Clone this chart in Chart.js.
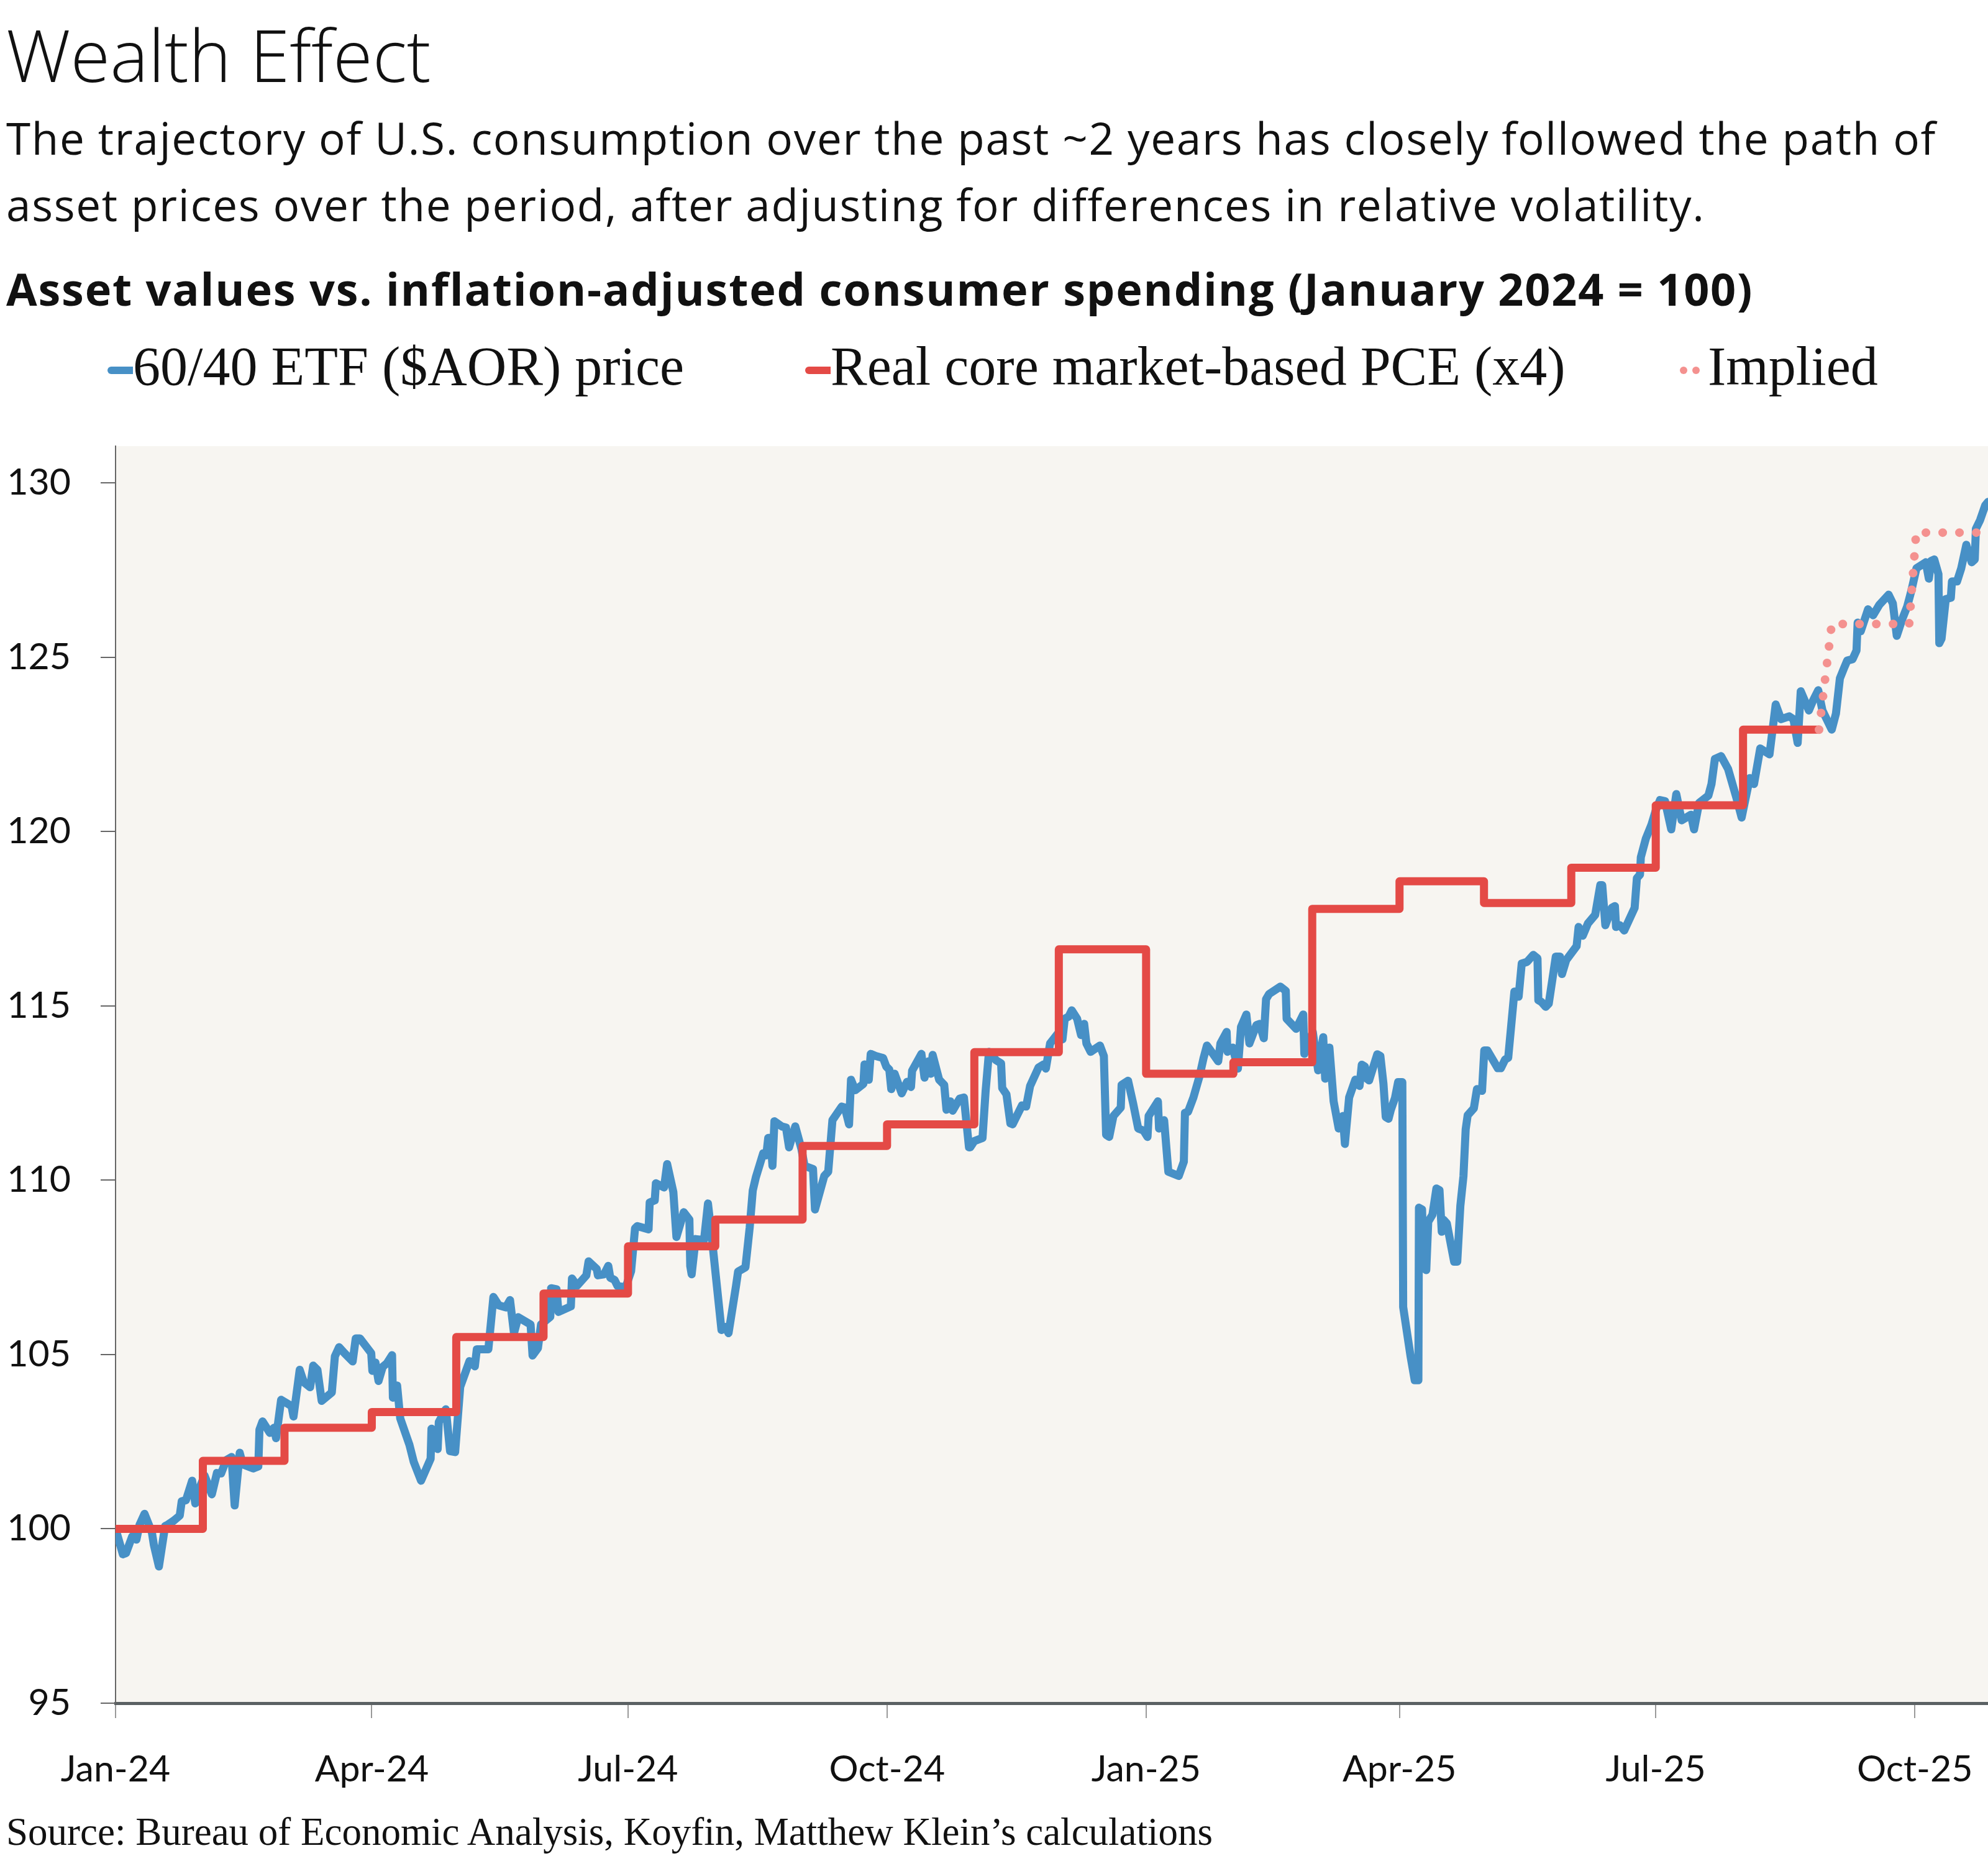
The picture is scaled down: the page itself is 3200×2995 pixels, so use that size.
<!DOCTYPE html>
<html>
<head>
<meta charset="utf-8">
<title>Wealth Effect</title>
<script src="https://cdn.jsdelivr.net/npm/chart.js@4.4.1/dist/chart.umd.min.js"></script>
<style>
  html, body { margin: 0; padding: 0; background: #fff; }
  body { width: 3200px; height: 2995px; position: relative; overflow: hidden; color: #111; }
  #chartBox { position: absolute; left: 0; top: 0; width: 3200px; height: 2995px; }
  .txt { position: absolute; left: 10px; white-space: nowrap; }
  #title { top: 29px; font: 300 116px/1 "Open Sans", sans-serif; }
  #subtitle { top: 168px; font: 400 71px/107px "Open Sans", sans-serif; letter-spacing: 1.7px; }
  #heading { top: 428px; font: 700 72px/1 "Open Sans", sans-serif; letter-spacing: 1.8px; }
  .legend-text { position: absolute; top: 546px; white-space: nowrap; font: 400 88px/1 "Liberation Serif", serif; }
  .swatch { position: absolute; top: 590px; width: 41px; height: 12px; border-radius: 6px 0 0 6px; }
  .dot { position: absolute; top: 590px; width: 12px; height: 12px; border-radius: 50%; background: #f4918f; }
  #source { top: 2917px; font: 400 63px/1 "Liberation Serif", serif; }
</style>
</head>
<body>
<div id="chartBox"><canvas id="wealthChart"></canvas></div>

<div class="txt" id="title">Wealth Effect</div>
<div class="txt" id="subtitle">The trajectory of U.S. consumption over the past ~2 years has closely followed the path of<br>asset prices over the period, after adjusting for differences in relative volatility.</div>
<div class="txt" id="heading">Asset values vs. inflation-adjusted consumer spending (January 2024 = 100)</div>

<div class="swatch" style="left:173px; background:#4790c6;"></div>
<div class="legend-text" style="left:214px;">60/40 ETF ($AOR) price</div>
<div class="swatch" style="left:1296px; background:#e44a46;"></div>
<div class="legend-text" style="left:1337px;">Real core market-based PCE (x4)</div>
<div class="dot" style="left:2704px;"></div>
<div class="dot" style="left:2724px;"></div>
<div class="legend-text" style="left:2749px;">Implied</div>

<div class="txt" id="source">Source: Bureau of Economic Analysis, Koyfin, Matthew Klein’s calculations</div>

<script>
// x positions are calendar days since 1 Jan 2024
const xTickDays = [0, 91, 182, 274, 366, 456, 547, 639];
const xTickLabels = ['Jan-24', 'Apr-24', 'Jul-24', 'Oct-24', 'Jan-25', 'Apr-25', 'Jul-25', 'Oct-25'];
const yTicks = [95, 100, 105, 110, 115, 120, 125, 130];

// 60/40 ETF ($AOR) price, Jan 2024 = 100
const aorDays = [
    0, 2.6, 3.7, 5.9, 7.4, 8.5, 10.3, 12.9, 13.6, 15.4, 17.6, 18.4, 20.6, 22.8, 23.5, 25.0, 27.2, 28.3, 29.0, 31.6,
    34.2, 36.0, 37.5, 39.3, 41.2, 42.3, 44.1, 45.2, 48.9, 50.7, 51.1, 52.2, 54.8, 56.3, 57.0, 58.8, 62.5, 63.2, 65.4, 66.9,
    69.1, 70.2, 71.7, 73.2, 76.8, 77.9, 79.4, 81.3, 84.2, 85.3, 86.8, 90.8, 91.2, 92.3, 93.4, 94.9, 96.3, 98.2, 98.5, 100.0,
    101.1, 104.4, 105.9, 108.5, 111.9, 112.2, 114.4, 114.8, 117.3, 118.8, 120.6, 122.4, 125.7, 127.6, 128.3, 132.4, 134.2, 136.1, 138.6, 140.1,
    141.5, 143.0, 147.4, 148.1, 150.0, 151.1, 154.4, 154.7, 156.6, 157.3, 161.7, 162.1, 163.9, 167.2, 168.0, 170.9, 171.3, 173.5, 175.0, 175.7,
    177.2, 178.3, 181.2, 183.1, 184.5, 185.3, 189.3, 189.7, 191.5, 191.9, 194.8, 195.9, 198.1, 199.2, 201.8, 203.8, 204.1, 204.6, 206.0, 209.0,
    210.4, 211.9, 215.2, 216.7, 217.7, 220.4, 221.1, 223.7, 225.2, 226.3, 227.4, 230.0, 231.1, 231.8, 232.6, 233.3, 234.0, 236.6, 238.1, 239.2,
    241.4, 243.6, 244.7, 247.7, 248.4, 251.7, 253.1, 254.6, 257.9, 259.0, 260.5, 261.2, 262.7, 265.6, 266.0, 267.5, 268.2, 270.0, 272.6, 273.7,
    274.8, 275.5, 276.7, 279.2, 281.1, 282.5, 282.9, 286.2, 287.3, 288.8, 289.5, 290.2, 292.5, 294.3, 295.1, 296.5, 297.3, 299.8, 301.3, 303.1,
    303.5, 305.0, 307.9, 309.0, 310.2, 312.7, 314.5, 314.9, 316.4, 317.8, 318.6, 321.9, 323.4, 324.8, 327.8, 329.6, 330.4, 331.9, 334.5, 335.2,
    336.3, 337.1, 338.5, 339.6, 341.5, 342.9, 344.0, 344.8, 346.3, 349.6, 351.0, 351.8, 352.9, 354.4, 357.0, 357.3, 359.6, 361.4, 363.2, 365.1,
    366.5, 366.9, 370.2, 370.6, 372.4, 373.9, 377.6, 379.4, 379.8, 380.9, 382.8, 385.0, 386.4, 387.6, 388.7, 391.6, 392.4, 394.6, 394.9, 396.8,
    398.6, 399.7, 401.6, 402.7, 405.2, 406.3, 407.8, 408.6, 409.7, 413.7, 415.6, 415.9, 419.3, 421.8, 422.2, 425.2, 427.1, 428.9, 429.6, 431.1,
    432.6, 434.4, 435.9, 436.6, 438.1, 440.3, 441.8, 442.6, 443.7, 444.4, 445.2, 448.1, 449.2, 450.3, 451.1, 452.1, 452.9, 454.4, 455.5, 457.0,
    457.3, 459.9, 461.4, 462.7, 462.9, 464.0, 464.7, 465.5, 466.2, 467.7, 469.1, 470.2, 471.0, 471.7, 472.8, 475.4, 476.5, 477.6, 478.7, 479.5,
    480.2, 482.4, 483.5, 485.3, 486.1, 487.2, 490.9, 492.0, 493.5, 494.6, 496.8, 498.3, 499.4, 501.3, 503.5, 505.0, 505.3, 506.4, 507.9, 509.0,
    511.5, 513.0, 513.7, 515.2, 518.9, 519.6, 521.1, 522.9, 525.5, 527.3, 528.0, 529.1, 531.4, 532.5, 532.9, 534.3, 535.8, 539.5, 540.3, 541.4,
    541.7, 543.5, 545.5, 547.0, 548.5, 550.3, 552.5, 554.3, 556.2, 559.5, 560.6, 562.4, 565.7, 566.8, 568.0, 570.2, 572.7, 575.7, 577.5, 580.4,
    581.9, 584.1, 587.4, 589.6, 591.5, 594.4, 595.9, 597.4, 598.5, 601.4, 602.9, 604.7, 606.2, 609.5, 611.0, 612.4, 613.9, 615.0, 616.9, 618.3,
    618.7, 619.8, 622.4, 624.2, 626.4, 629.7, 631.2, 632.6, 634.5, 636.3, 637.8, 639.6, 642.9, 644.0, 644.8, 645.9, 647.4, 647.7, 648.5, 650.0,
    651.8, 652.2, 654.0, 655.5, 657.3, 659.2, 660.3, 660.7, 662.2, 664.0, 665.0
];
const aorValues = [
    100.00, 99.27, 99.30, 99.78, 99.69, 100.11, 100.43, 99.90, 99.54, 98.92, 100.08, 100.11, 100.23, 100.38, 100.79, 100.82, 101.38, 100.73, 101.00, 101.53,
    100.99, 101.60, 101.59, 101.97, 102.06, 100.67, 102.18, 101.85, 101.73, 101.79, 102.84, 103.08, 102.75, 102.90, 102.60, 103.70, 103.52, 103.22, 104.56, 104.20,
    104.06, 104.68, 104.56, 103.67, 103.91, 104.95, 105.21, 105.04, 104.80, 105.46, 105.46, 105.04, 104.53, 104.77, 104.24, 104.65, 104.74, 104.98, 103.76, 104.11,
    103.17, 102.40, 101.92, 101.38, 102.01, 102.87, 102.29, 103.06, 103.43, 102.23, 102.20, 104.07, 104.81, 104.66, 105.15, 105.15, 106.65, 106.41, 106.35, 106.56,
    105.61, 106.07, 105.86, 104.97, 105.18, 105.86, 106.08, 106.90, 106.87, 106.22, 106.38, 107.18, 106.97, 107.27, 107.67, 107.45, 107.27, 107.30, 107.54, 107.20,
    107.14, 106.96, 106.93, 107.39, 108.62, 108.68, 108.59, 109.36, 109.42, 109.91, 109.79, 110.46, 109.66, 108.37, 109.08, 108.87, 107.54, 107.30, 108.31, 108.28,
    109.33, 108.25, 105.70, 105.79, 105.61, 106.99, 107.38, 107.50, 108.63, 109.70, 110.08, 110.77, 110.71, 111.21, 111.21, 110.41, 111.69, 111.54, 111.51, 110.94,
    111.54, 110.89, 110.41, 110.32, 109.16, 110.12, 110.24, 111.72, 112.11, 112.08, 111.60, 112.88, 112.58, 112.76, 113.32, 112.88, 113.62, 113.56, 113.50, 113.26,
    113.17, 112.61, 113.05, 112.49, 112.82, 112.67, 113.14, 113.62, 112.94, 113.41, 113.05, 113.59, 112.88, 112.73, 112.02, 112.26, 111.99, 112.34, 112.37, 110.94,
    110.94, 111.12, 111.21, 112.55, 113.68, 113.44, 113.35, 112.64, 112.46, 111.63, 111.60, 112.14, 112.11, 112.70, 113.23, 113.32, 113.20, 113.92, 114.19, 114.25,
    114.04, 114.63, 114.69, 114.87, 114.63, 114.16, 114.48, 113.92, 113.68, 113.86, 113.56, 111.30, 111.24, 111.84, 112.08, 112.73, 112.85, 112.20, 111.48, 111.42,
    111.24, 111.84, 112.26, 111.48, 111.72, 110.24, 110.12, 110.53, 111.93, 111.96, 112.37, 112.99, 113.50, 113.86, 113.74, 113.41, 113.92, 114.25, 113.68, 113.80,
    113.20, 114.39, 114.75, 113.92, 114.45, 114.48, 114.07, 115.19, 115.34, 115.55, 115.43, 114.63, 114.34, 114.75, 113.62, 114.25, 113.15, 114.10, 112.91, 113.80,
    112.26, 111.48, 111.84, 111.04, 112.37, 112.88, 112.70, 113.31, 113.26, 112.91, 112.86, 113.61, 113.56, 112.76, 111.81, 111.76, 112.01, 112.36, 112.81, 112.81,
    106.36, 104.96, 104.26, 104.26, 109.21, 109.16, 107.47, 107.42, 108.81, 109.01, 109.76, 109.71, 108.52, 108.86, 108.76, 107.66, 107.66, 109.26, 110.11, 111.46,
    111.86, 112.06, 112.61, 112.56, 113.72, 113.72, 113.21, 113.21, 113.46, 113.51, 115.41, 115.26, 116.21, 116.26, 116.46, 116.36, 115.16, 115.11, 114.97, 115.06,
    116.41, 116.41, 115.91, 116.31, 116.71, 117.26, 117.01, 117.36, 117.61, 118.46, 118.46, 117.31, 117.81, 117.86, 117.26, 117.31, 117.16, 117.81, 118.66, 118.76,
    119.26, 119.80, 120.20, 120.60, 120.90, 120.87, 120.06, 121.07, 120.32, 120.48, 120.06, 120.82, 121.03, 121.36, 122.08, 122.16, 121.79, 120.95, 120.40, 121.53,
    121.36, 122.38, 122.21, 123.64, 123.22, 123.30, 123.22, 122.54, 124.02, 123.47, 123.76, 124.05, 123.47, 122.92, 123.38, 124.39, 124.69, 124.90, 124.94, 125.19,
    125.99, 125.74, 126.37, 126.20, 126.50, 126.79, 126.54, 125.61, 126.08, 126.45, 126.91, 127.55, 127.72, 127.25, 127.76, 127.80, 127.38, 125.40, 125.53, 126.66,
    126.70, 127.17, 127.17, 127.55, 128.22, 127.72, 127.80, 128.68, 128.93, 129.35, 129.45
];

// Real core market-based PCE (x4): monthly level, starting day of each month; last entry = last daily observation
const pceDays = [0, 31, 60, 91, 121, 152, 182, 213, 244, 274, 305, 335, 366, 397, 425, 456, 486, 517, 547, 578, 605];
const pceValues = [
    100.00, 101.95, 102.90, 103.35, 105.50, 106.75, 108.10, 108.87, 110.98, 111.60, 113.67, 116.62,
    113.05, 113.38, 117.78, 118.57, 117.95, 118.96, 120.75, 122.92, 122.92
];

// Implied path
const impliedDays = [605, 609.5, 637, 639.5, 665];
const impliedValues = [122.92, 125.95, 125.95, 128.57, 128.57];

const tickFont = { family: 'Lato', size: 59 };

// Fill the plot area with the beige background
const plotBackground = {
    id: 'plotBackground',
    beforeDraw(chart) {
        const { ctx, chartArea } = chart;
        ctx.save();
        ctx.fillStyle = '#f7f5f1';
        ctx.fillRect(chartArea.left, chartArea.top, chartArea.right - chartArea.left, chartArea.bottom - chartArea.top);
        ctx.restore();
    }
};

function toPoints(xs, ys) {
    return xs.map((x, i) => ({ x: x, y: ys[i] }));
}

const ctx = document.getElementById('wealthChart').getContext('2d');
new Chart(ctx, {
    type: 'line',
    data: {
        datasets: [
            {
                label: 'Implied',
                data: toPoints(impliedDays, impliedValues),
                borderColor: '#f4918f',
                borderWidth: 14,
                borderDash: [0, 27],
                borderCapStyle: 'round',
                pointRadius: 0,
                tension: 0,
                order: 1
            },
            {
                label: 'Real core market-based PCE (x4)',
                data: toPoints(pceDays, pceValues),
                borderColor: '#e44a46',
                borderWidth: 13,
                stepped: true,
                borderJoinStyle: 'round',
                pointRadius: 0,
                order: 2
            },
            {
                label: '60/40 ETF ($AOR) price',
                data: toPoints(aorDays, aorValues),
                borderColor: '#4790c6',
                borderWidth: 13,
                borderJoinStyle: 'round',
                borderCapStyle: 'round',
                pointRadius: 0,
                tension: 0,
                order: 3
            }
        ]
    },
    options: {
        responsive: true,
        maintainAspectRatio: false,
        devicePixelRatio: 1,
        animation: false,
        layout: {
            padding: { top: 718, left: 0, right: 0, bottom: 0 }
        },
        plugins: {
            legend: { display: false },
            tooltip: { enabled: false }
        },
        scales: {
            x: {
                type: 'linear',
                min: 0,
                max: 665,
                afterBuildTicks: scale => {
                    scale.ticks = xTickDays.map(v => ({ value: v }));
                },
                afterFit: scale => {
                    // plot runs right to the edge, as in the original
                    scale.height = 254;
                    scale.paddingLeft = 0;
                    scale.paddingRight = 0;
                },
                grid: {
                    drawOnChartArea: false,
                    tickLength: 24,
                    color: '#9a9a9a',
                    lineWidth: 2
                },
                border: {
                    color: '#5b6163',
                    width: 5
                },
                ticks: {
                    callback: (value, index) => xTickLabels[index],
                    font: tickFont,
                    color: '#111',
                    padding: 48,
                    maxRotation: 0,
                    autoSkip: false
                }
            },
            y: {
                type: 'linear',
                min: 95,
                max: 131.05,
                afterBuildTicks: scale => {
                    scale.ticks = yTicks.map(v => ({ value: v }));
                },
                afterFit: scale => {
                    scale.width = 186;
                },
                grid: {
                    drawOnChartArea: false,
                    tickLength: 24,
                    color: '#666',
                    lineWidth: 2
                },
                border: {
                    color: '#666',
                    width: 2
                },
                ticks: {
                    font: tickFont,
                    color: '#111',
                    padding: 48
                }
            }
        }
    },
    plugins: [plotBackground]
});
</script>
</body>
</html>
